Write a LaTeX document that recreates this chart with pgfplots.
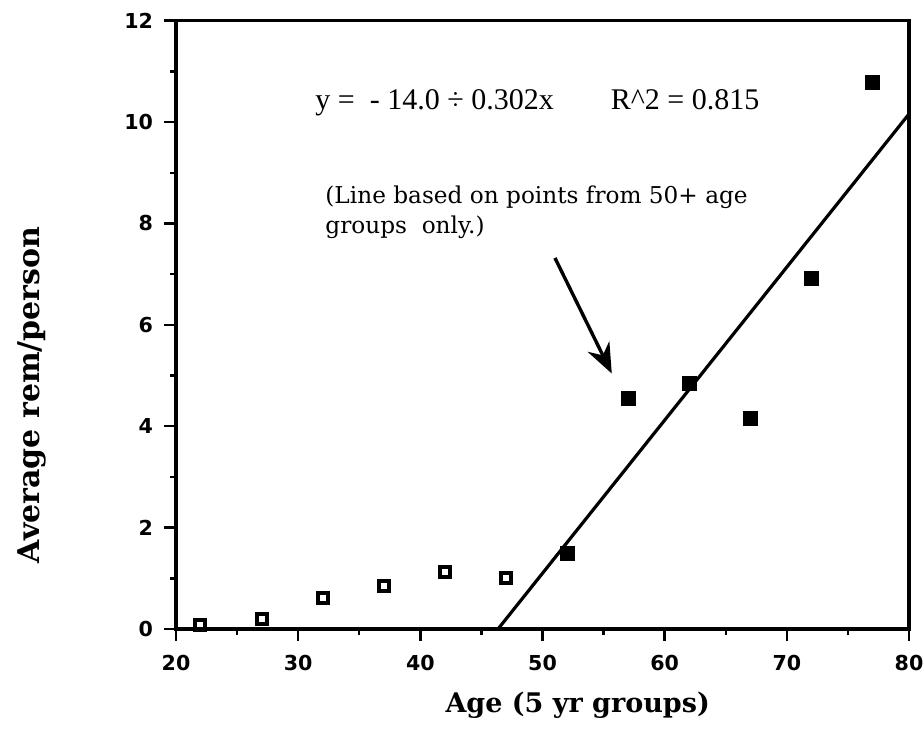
\documentclass[border=0pt]{standalone}
\usepackage{fontspec}
\usepackage{pgfplots}
\pgfplotsset{compat=1.18}
\usetikzlibrary{arrows.meta}
\setmainfont{Liberation Serif}
\newfontfamily\tickfont{DejaVu Sans}
\newfontfamily\labfont{DejaVu Serif}
\newfontfamily\notefont{DejaVu Serif}

\begin{document}
\begin{tikzpicture}
\begin{axis}[
  scale only axis,
  width=366.5pt, height=304.15pt,
  xmin=20, xmax=80, ymin=0, ymax=12,
  xtick={20,30,...,80}, ytick={0,2,...,12},
  minor x tick num=1, minor y tick num=1,
  xtick pos=bottom, ytick pos=left,
  tick align=outside,
  major tick length=6pt, minor tick length=3pt,
  axis line style={line width=1.6pt},
  every tick/.style={black, line width=1.2pt},
  /pgf/number format/assume math mode=true,
  ticklabel style={font=\tickfont\bfseries\fontsize{10.3}{12}\selectfont},
  xticklabel style={yshift=-3.5pt},
  yticklabel style={xshift=-2pt},
  xlabel={Age (5 yr groups)},
  ylabel={Average rem/person},
  xlabel style={at={(axis description cs:0.548,-0.125)}, anchor=center,
    font=\labfont\bfseries\fontsize{13.5}{16}\selectfont},
  ylabel style={at={(axis description cs:-0.197,0.385)}, anchor=center, rotate=0,
    font=\labfont\bfseries\fontsize{15}{17}\selectfont},
  clip=false,
]
% age groups under 50
\addplot[only marks, mark=square, mark size=2.5pt,
  mark options={line width=2pt, solid, black}] coordinates {
  (22,0.08) (27,0.20) (32,0.61) (37,0.85) (42,1.12) (47,1.00)};
% age groups 50+
\addplot[only marks, mark=square*, mark size=3.5pt,
  mark options={fill=black, draw=none}] coordinates {
  (52,1.50) (57,4.55) (62,4.85) (67,4.16) (72,6.92) (77,10.79)};
% fit line, 50+ only
\addplot[black, line width=1.6pt] coordinates {(46.36,0) (80,10.16)};

\node[anchor=base west, inner sep=0, font=\fontsize{15}{17}\selectfont]
  at (axis cs:31.38,10.25) {y =\ \ - 14.0 ÷ 0.302x\hspace{1.9em}R\textasciicircum 2 = 0.815};
\node[anchor=north west, inner sep=0, align=left,
  font=\notefont\fontsize{11.6}{15}\selectfont]
  at (axis cs:32.2,8.74) {(Line based on points from 50+ age\\groups\ \ only.)};
\draw[line width=1.7pt, -{Stealth[length=15pt, width=12pt]}]
  (axis cs:51.02,7.32) -- (axis cs:55.67,5.04);
\end{axis}
\pgfresetboundingbox
\path ([shift={(-88pt,-54.5pt)}]current axis.south west)
  rectangle ([shift={(7.5pt,10.35pt)}]current axis.north east);
\end{tikzpicture}
\end{document}
